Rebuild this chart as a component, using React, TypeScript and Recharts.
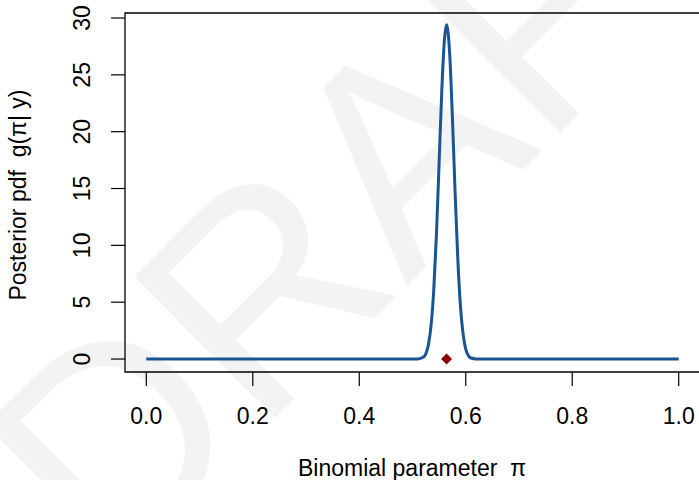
import { ComposedChart, Line, Scatter, XAxis, YAxis, ReferenceArea } from "recharts"

// grid of pi values and the posterior density
const piValues = [
  0, 0.1, 0.2, 0.3, 0.4, 0.45, 0.5, 0.51, 0.52, 0.525, 0.53, 0.535, 0.54, 0.545, 0.55, 0.555, 0.56, 0.564,
  0.57, 0.575, 0.58, 0.585, 0.59, 0.595, 0.6, 0.605, 0.61, 0.62, 0.65, 0.7, 0.8, 0.9, 1,
]
const density = [
  0, 0, 0, 0, 0, 0, 0, 0.01, 0.15, 0.45, 1.27, 3.0, 6.15, 11.0, 17.3, 23.6, 28.1, 29.4,
  26.7, 21.2, 14.7, 8.9, 4.7, 2.2, 0.87, 0.3, 0.09, 0.01, 0, 0, 0, 0, 0,
]
const modeValue = [{ x: 0.564, y: 0 }]

const xTicks = [0, 0.2, 0.4, 0.6, 0.8, 1]
const xTickLabels = ["0.0", "0.2", "0.4", "0.6", "0.8", "1.0"]
const yTicks = [0, 5, 10, 15, 20, 25, 30]

const xDomain = [-0.04, 1.04]
const yDomain = [-1.14, 30.44]

const font = "'Liberation Sans', Arial, Helvetica, sans-serif"
const fs = 23
const curveData = piValues.map((x, i) => ({ x, y: density[i] }))

const XTick = ({ x, y, payload }: any) => {
  const i = xTicks.indexOf(payload.value)
  return (
    <text x={x} y={y + 36} textAnchor="middle" fontSize={fs} fontFamily={font} fill="#000">
      {i >= 0 ? xTickLabels[i] : payload.value}
    </text>
  )
}

const YTick = ({ x, y, payload }: any) => (
  <text
    x={x - 19}
    y={y}
    transform={`rotate(-90, ${x - 19}, ${y})`}
    textAnchor="middle"
    fontSize={fs}
    fontFamily={font}
    fill="#000"
  >
    {payload.value}
  </text>
)

const Diamond = ({ cx, cy }: any) => (
  <polygon points={`${cx},${cy - 5.5} ${cx + 5.5},${cy} ${cx},${cy + 5.5} ${cx - 5.5},${cy}`} fill="#8b0000" />
)

export default function App() {
  return (
    <div style={{ position: "absolute", left: 0, top: 0, width: 699, height: 480, overflow: "hidden", background: "#fff" }}>
      <svg width={699} height={480} style={{ position: "absolute", left: 0, top: 0 }}>
        <text
          x={452}
          y={241}
          transform="rotate(-45, 452, 241)"
          textAnchor="middle"
          fontSize={290}
          fontFamily={font}
          fill="#f3f3f3"
        >
          DRAFT
        </text>
        <text x={412} y={476} textAnchor="middle" fontSize={fs} fontFamily={font} fill="#000">
          {"Binomial parameter\u00a0\u00a0π"}
        </text>
        <text
          x={26}
          y={195}
          transform="rotate(-90, 26, 195)"
          textAnchor="middle"
          fontSize={fs}
          fontFamily={font}
          fill="#000"
        >
          {"Posterior pdf\u00a0\u00a0g(π|\u00a0y)"}
        </text>
      </svg>
      <div style={{ position: "absolute", left: 0, top: 0 }}>
        <ComposedChart width={710} height={480} data={curveData} margin={{ top: 13, right: 10, bottom: 0, left: 0 }}>
          <XAxis
            dataKey="x"
            type="number"
            domain={xDomain}
            ticks={xTicks}
            allowDataOverflow
            axisLine={false}
            tickLine={{ stroke: "#000", strokeWidth: 1.2 }}
            tickSize={14}
            tick={<XTick />}
            height={108}
          />
          <YAxis
            type="number"
            domain={yDomain}
            ticks={yTicks}
            allowDataOverflow
            axisLine={false}
            tickLine={{ stroke: "#000", strokeWidth: 1.2 }}
            tickSize={14}
            tick={<YTick />}
            width={125}
          />
          <ReferenceArea
            x1={xDomain[0]}
            x2={xDomain[1]}
            y1={yDomain[0]}
            y2={yDomain[1]}
            fill="none"
            stroke="#000"
            strokeWidth={1.3}
            ifOverflow="visible"
          />
          <Line
            dataKey="y"
            type="monotone"
            stroke="#1a5493"
            strokeWidth={3}
            dot={false}
            isAnimationActive={false}
          />
          <Scatter data={modeValue} dataKey="y" shape={<Diamond />} isAnimationActive={false} />
        </ComposedChart>
      </div>
    </div>
  )
}
